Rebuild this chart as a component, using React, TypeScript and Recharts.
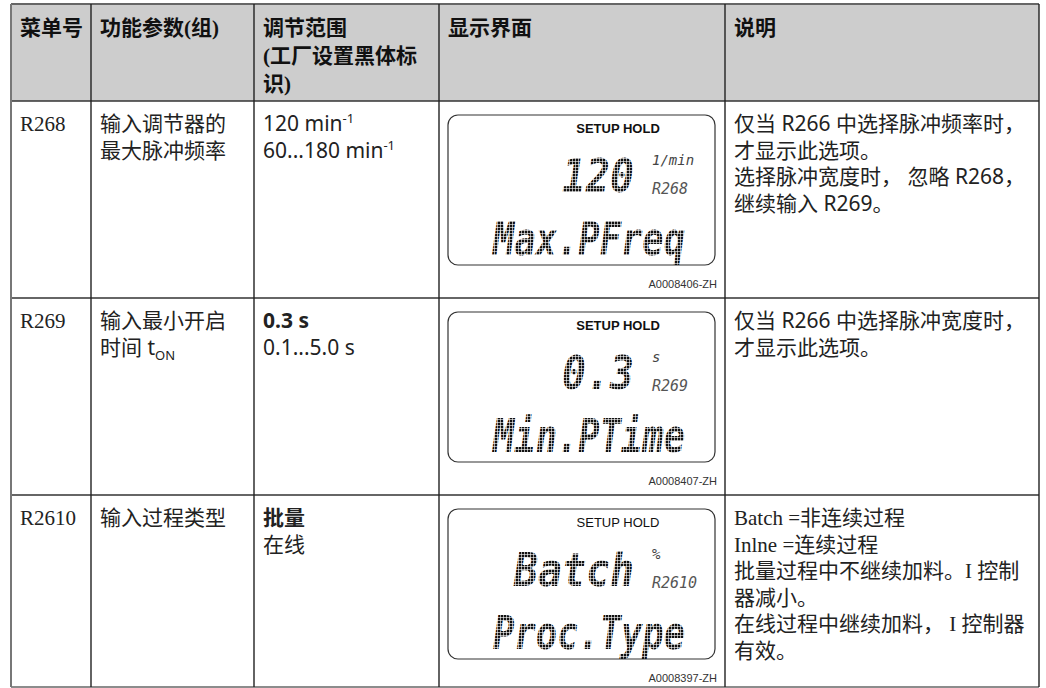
import { Surface, Layer, Rectangle, Text } from 'recharts';

// table content
const headers = [['菜单号'], ['功能参数(组)'], ['调节范围', '(工厂设置黑体标', '识)'], ['显示界面'], ['说明']];
const menuCodes = ['R268', 'R269', 'R2610'];
const functionNames = [['输入调节器的', '最大脉冲频率'], ['输入最小开启', '时间 t_ON'], ['输入过程类型']];
const ranges = [['120 min^-1', '60...180 min^-1'], ['**0.3 s', '0.1...5.0 s'], ['**批量', '在线']];
const lcdValues = ['120', '0.3', 'Batch'];
const lcdUnits = ['1/min', 's', '%'];
const lcdLabels = ['Max.PFreq', 'Min.PTime', 'Proc.Type'];
const figureIds = ['A0008406-ZH', 'A0008407-ZH', 'A0008397-ZH'];
const notes = [
    ['仅当 R266 中选择脉冲频率时，', '才显示此选项。', '选择脉冲宽度时， 忽略 R268，', '继续输入 R269。'],
    ['仅当 R266 中选择脉冲宽度时，', '才显示此选项。'],
    ['Batch =非连续过程', 'Inlne =连续过程', '批量过程中不继续加料。I 控制', '器减小。', '在线过程中继续加料， I 控制器', '有效。'],
];

// layout
const W = 1046, H = 688;
const colX = [11, 91, 254, 439, 725, 1039];
const rowY = [4, 101, 298, 495, 687];
const SANS = "'Noto Sans', 'Noto Sans CJK SC', sans-serif";
const SERIF = "'Liberation Serif', 'Noto Sans CJK SC', serif";
const MONO = "'DejaVu Sans Mono', monospace";
const FS = 21;
const LINE = 26.5;
const serifNotes = [false, false, true];
const boldSetup = [true, true, false];

const RichLine = ({ line, x, y, font }: { line: string; x: number; y: number; font: string }) => {
    let bold = false;
    let s = line;
    if (s.startsWith('**')) { bold = true; s = s.slice(2); }
    let sup = '', sub = '';
    if (s.includes('^')) { [s, sup] = s.split('^'); }
    if (s.includes('_')) { [s, sub] = s.split('_'); }
    return (
        <text x={x} y={y} fontFamily={font} fontSize={FS} fill="#222" fontWeight={bold ? 700 : 400}>
            {s}
            {sup && <tspan dy={-8} fontSize={13}>{sup}</tspan>}
            {sub && <tspan dy={5} fontSize={13}>{sub}</tspan>}
        </text>
    );
};

const Lcd = ({ i }: { i: number }) => {
    const top = rowY[i + 1];
    const bx = 448, by = top + 14;
    return (
        <Layer>
            <Rectangle x={bx} y={by} width={267} height={150} radius={10} fill="#fff" stroke="#333" strokeWidth={1.2} />
            <text x={bx + 170} y={by + 18} textAnchor="middle" fontFamily="'Liberation Sans', sans-serif"
                fontSize={13} fontWeight={boldSetup[i] ? 700 : 400} fill="#111">SETUP  HOLD</text>
            <text x={bx + 186} y={by + 77} textAnchor="end" fontFamily={MONO} fontStyle="italic" fontWeight={700} fontSize={46}
                textLength={lcdValues[i].length * 24} lengthAdjust="spacingAndGlyphs" fill="url(#lcdDots)">{lcdValues[i]}</text>
            <text x={bx + 204} y={by + 50} fontFamily={MONO} fontStyle="italic" fontSize={14} fill="#444">{lcdUnits[i]}</text>
            <text x={bx + 204} y={by + 79} fontFamily={MONO} fontStyle="italic" fontSize={15} fill="#555">{menuCodes[i]}</text>
            <text x={bx + 45} y={by + 140} fontFamily={MONO} fontStyle="italic" fontWeight={700} fontSize={46}
                textLength={192} lengthAdjust="spacingAndGlyphs" fill="url(#lcdDots)">{lcdLabels[i]}</text>
            <Text x={717} y={top + 187} textAnchor="end" fontFamily="'Liberation Sans', sans-serif" fontSize={11} fill="#333">
                {figureIds[i]}
            </Text>
        </Layer>
    );
};

export default function App() {
    return (
        <div style={{ position: 'absolute', left: 0, top: 0, width: W, height: H, background: '#fff' }}>
            <Surface width={W} height={H}>
                <defs>
                    <pattern id="lcdDots" patternUnits="userSpaceOnUse" width={3} height={3}>
                        <rect width={2.4} height={2.4} fill="#111" />
                    </pattern>
                </defs>
                <Rectangle x={colX[0]} y={rowY[0]} width={colX[5] - colX[0]} height={rowY[1] - rowY[0]} fill="#cdcdcd" />
                {headers.map((lines, c) => lines.map((l, k) => (
                    <text key={`h${c}-${k}`} x={colX[c] + 9} y={rowY[0] + 31 + k * 28} fontFamily={SERIF}
                        fontSize={FS} fontWeight={700} fill="#111">{l}</text>
                )))}
                {menuCodes.map((code, i) => {
                    const y0 = rowY[i + 1] + 30;
                    return (
                        <Layer key={code}>
                            <text x={colX[0] + 9} y={y0} fontFamily={SERIF} fontSize={FS} fill="#222">{code}</text>
                            {functionNames[i].map((l, k) => <RichLine key={k} line={l} x={colX[1] + 9} y={y0 + k * LINE} font={SANS} />)}
                            {ranges[i].map((l, k) => <RichLine key={k} line={l} x={colX[2] + 9} y={y0 + k * LINE} font={SANS} />)}
                            {notes[i].map((l, k) => <RichLine key={k} line={l} x={colX[4] + 9} y={y0 + k * LINE} font={serifNotes[i] ? SERIF : SANS} />)}
                            <Lcd i={i} />
                        </Layer>
                    );
                })}
                {rowY.map((y, r) => (
                    <line key={`r${r}`} x1={colX[0]} x2={colX[5]} y1={y} y2={y}
                        stroke={r === 0 || r === 4 ? '#666' : '#333'} strokeWidth={r === 0 ? 2 : 1.5} />
                ))}
                {colX.map((x, c) => (
                    <line key={`c${c}`} x1={x} x2={x} y1={rowY[0]} y2={rowY[4]}
                        stroke={c === 0 ? '#777' : '#222'} strokeWidth={c === 0 ? 2 : 1.4} />
                ))}
            </Surface>
        </div>
    );
}
